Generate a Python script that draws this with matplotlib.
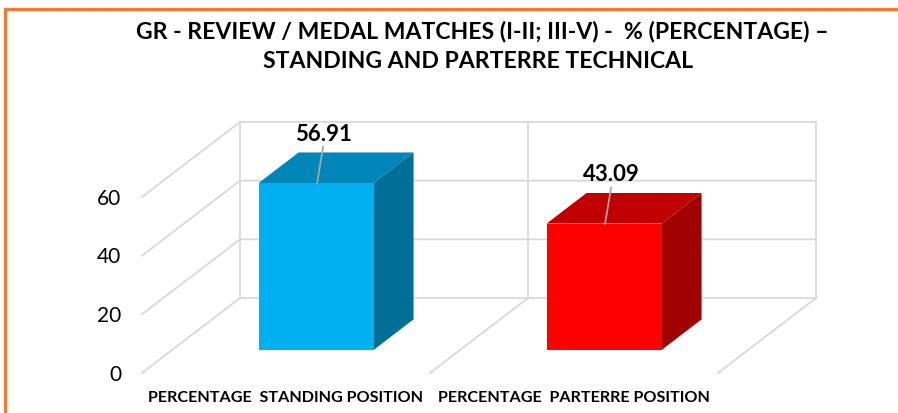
import matplotlib
matplotlib.use("Agg")
import matplotlib.pyplot as plt
from matplotlib.patches import Polygon

plt.rcParams['font.family'] = ['Lato', 'DejaVu Sans']

# ---- data ----
categories = ["PERCENTAGE  STANDING POSITION", "PERCENTAGE  PARTERRE POSITION"]
values = [56.91, 43.09]
value_labels = ["56.91", "43.09"]
yticks = [0, 20, 40, 60]
title_lines = ["GR - REVIEW / MEDAL MATCHES (I-II; III-V) -  % (PERCENTAGE) –",
               "STANDING AND PARTERRE TECHNICAL"]

front_colors = ["#00B0F0", "#FF0000"]
top_colors = ["#0086B9", "#C00000"]
side_colors = ["#006F98", "#A00000"]

# ---- geometry (pixel-like x, value y) ----
W, H = 898, 413
PX_PER_UNIT = 2.933
Y0_PX = 373.0
def vy(py):
    return (Y0_PX - py) / PX_PER_UNIT

X_START = 142.0
CAT_W = 288.0
DX = 98.0
DY = 75.0 / PX_PER_UNIT
BAR_W = 115.0
D0, D1 = 0.307, 0.715
VMAX = 60

fig = plt.figure(figsize=(W / 100, H / 100), dpi=100)
ax = fig.add_axes([0, 0, 1, 1])
ax.set_xlim(0, W)
ax.set_ylim(vy(H), vy(0))
ax.axis('off')

grid_c = "#D9D9D9"
lw = 1.3
n = len(categories)
x_end = X_START + n * CAT_W
# gridlines: left wall diagonals + back wall horizontals
for t in yticks:
    ax.plot([X_START, X_START + DX, x_end + DX], [t, t + DY, t + DY], color=grid_c, lw=lw, zorder=1)
# back wall verticals
for i in range(n + 1):
    xb = X_START + i * CAT_W + DX
    ax.plot([xb, xb], [DY, VMAX + DY], color=grid_c, lw=lw, zorder=1)
# floor diagonals
for i in range(1, n + 1):
    xf = X_START + i * CAT_W
    ax.plot([xf, xf + DX], [0, DY], color=grid_c, lw=lw, zorder=1)

# tick labels
for t in yticks:
    ax.text(121, t - 0.6, str(t), ha='right', va='center', fontsize=15, color='#000000')

# bars
for i, (v, lab) in enumerate(zip(values, value_labels)):
    xc = X_START + (i + 0.5) * CAT_W
    xl = xc - BAR_W / 2
    xr = xc + BAR_W / 2
    f = [(xl + D0 * DX, D0 * DY), (xr + D0 * DX, D0 * DY), (xr + D0 * DX, v + D0 * DY), (xl + D0 * DX, v + D0 * DY)]
    top = [(xl + D0 * DX, v + D0 * DY), (xr + D0 * DX, v + D0 * DY), (xr + D1 * DX, v + D1 * DY), (xl + D1 * DX, v + D1 * DY)]
    side = [(xr + D0 * DX, D0 * DY), (xr + D1 * DX, D1 * DY), (xr + D1 * DX, v + D1 * DY), (xr + D0 * DX, v + D0 * DY)]
    ax.add_patch(Polygon(top, closed=True, facecolor=top_colors[i], edgecolor='none', zorder=3))
    ax.add_patch(Polygon(side, closed=True, facecolor=side_colors[i], edgecolor='none', zorder=3))
    ax.add_patch(Polygon(f, closed=True, facecolor=front_colors[i], edgecolor='none', zorder=4))
    # leader line + label
    fx = xc + D0 * DX + 1
    ftop = v + D0 * DY
    lx = fx + 6
    ly = ftop + 36 / PX_PER_UNIT
    ax.plot([fx, lx], [ftop, ly], color='#A6A6A6', lw=1.3, zorder=5)
    ax.text(lx, ly + 0.8, lab, ha='center', va='bottom', fontsize=16, fontweight='bold', zorder=6)
    # category label
    ax.text(xc, vy(398), categories[i], ha='center', va='center', fontsize=11.6, fontweight='bold')

# title
ax.text(482, vy(32), title_lines[0], ha='center', va='center', fontsize=16.6, fontweight='bold')
ax.text(478, vy(61), title_lines[1], ha='center', va='center', fontsize=16.6, fontweight='bold')

# orange border
ax.plot([4.5, 4.5, W + 5], [vy(H + 5), vy(8.5), vy(8.5)], color='#ED7D31', lw=2.4, solid_joinstyle='miter', zorder=10)

fig.savefig("out.png", dpi=100)
